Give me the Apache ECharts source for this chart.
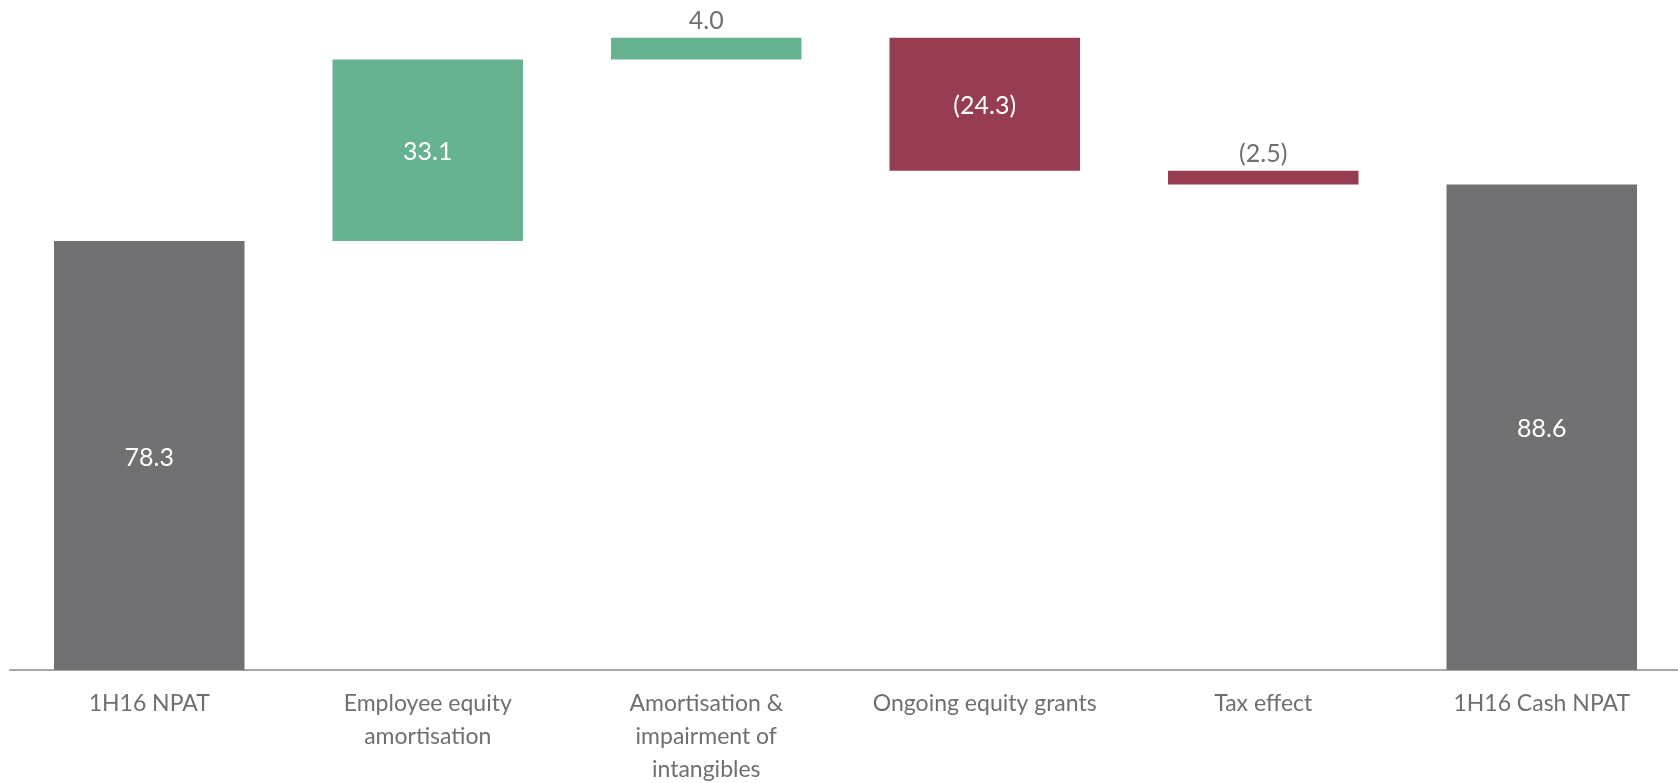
<!DOCTYPE html>
<html>
  <head>
    <meta charset="utf-8" />
    <title>NPAT to Cash NPAT</title>
    <script src="https://cdn.jsdelivr.net/npm/echarts/dist/echarts.min.js"></script>
  </head>
  <body style="margin:0">
    <div id="main" style="width: 1678px; height: 783px;"></div>
    <script type="text/javascript">
      var categorias = ['1H16 NPAT', 'Employee equity\namortisation', 'Amortisation &\nimpairment of\nintangibles', 'Ongoing equity grants', 'Tax effect', '1H16 Cash NPAT'];
      var valores = [78.3, 33.1, 4.0, -24.3, -2.5, 88.6];
      var totais = [true, false, false, false, false, true];

      var cinza = '#717173', verde = '#67B391', vinho = '#963D52';

      // base invisivel + barra visivel (cascata)
      var base = [], barras = [];
      var acumulado = 0;
      valores.forEach(function (v, i) {
        if (totais[i]) {
          base.push(0);
          barras.push({ value: v, itemStyle: { color: cinza } });
          acumulado = v;
        } else {
          var novo = acumulado + v;
          base.push(Math.min(acumulado, novo));
          barras.push({ value: Math.abs(v), itemStyle: { color: v >= 0 ? verde : vinho } });
          acumulado = novo;
        }
        var pequeno = Math.abs(v) < 10;
        barras[i].label = {
          position: pequeno ? 'top' : 'inside',
          color: pequeno ? '#6f6f6f' : '#ffffff',
          formatter: (v < 0 ? '(' + Math.abs(v).toFixed(1) + ')' : v.toFixed(1))
        };
      });

      var myChart = echarts.init(document.getElementById('main'));
      var option = {
        animation: false,
        grid: { left: 10, width: 1671, top: 12.5, bottom: 113, containLabel: false, outerBoundsMode: 'none' },
        xAxis: {
          type: 'category',
          data: categorias,
          axisLine: { lineStyle: { color: '#a6a6a6', width: 2 } },
          axisTick: { show: false },
          axisLabel: {
            interval: 0,
            margin: 17,
            color: '#6f6f6f',
            fontFamily: 'Lato',
            fontSize: 23,
            lineHeight: 33
          }
        },
        yAxis: {
          type: 'value',
          min: 0,
          max: 120,
          show: false
        },
        series: [
          {
            type: 'bar',
            stack: 'w',
            data: base,
            itemStyle: { color: 'transparent' },
            barCategoryGap: '31.6%',
            silent: true
          },
          {
            type: 'bar',
            stack: 'w',
            data: barras,
            barCategoryGap: '31.6%',
            label: {
              show: true,
              fontFamily: 'Lato',
              fontSize: 25,
              distance: 6,
              offset: [0, 2]
            }
          }
        ]
      };
      myChart.setOption(option);
    </script>
  </body>
</html>
